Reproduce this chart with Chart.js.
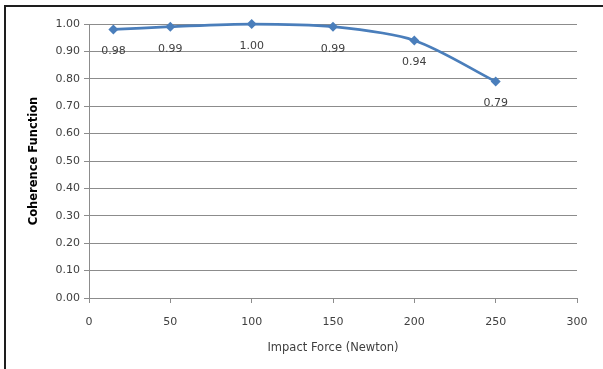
<!DOCTYPE html>
<html>
<head>
<meta charset="utf-8">
<script src="https://cdn.jsdelivr.net/npm/chart.js@4/dist/chart.umd.min.js"></script>
<style>
  html, body { margin: 0; padding: 0; background: #fff; }
  #wrap { position: relative; width: 603px; height: 369px; }
</style>
</head>
<body>
<div id="wrap"><canvas id="chart-coherence"></canvas></div>
<script>
// Coherence vs impact force
const forces    = [15, 50, 100, 150, 200, 250];
const coherence = [0.98, 0.99, 1.00, 0.99, 0.94, 0.79];
const xTicks    = [0, 50, 100, 150, 200, 250, 300];
const yTicks    = [0, 0.1, 0.2, 0.3, 0.4, 0.5, 0.6, 0.7, 0.8, 0.9, 1.0];

const LINE  = '#4a7ebb';
const GRID  = '#8c8c8c';
const TEXT  = '#404040';
const FONT  = 'DejaVu Sans';

// outer frame (left + top edges of the chart box)
const framePlugin = {
  id: 'frame',
  beforeDraw(chart) {
    const c = chart.ctx;
    c.save();
    c.fillStyle = '#fff';
    c.fillRect(0, 0, chart.width, chart.height);
    c.strokeStyle = '#1e1e1e';
    c.lineWidth = 2;
    c.beginPath();
    c.moveTo(5, chart.height);
    c.lineTo(5, 6);
    c.lineTo(chart.width, 6);
    c.stroke();
    c.restore();
  }
};

// value labels under each marker
const valueLabels = {
  id: 'valueLabels',
  afterDatasetsDraw(chart) {
    const c = chart.ctx;
    const meta = chart.getDatasetMeta(0);
    c.save();
    c.font = `11px "${FONT}"`;
    c.fillStyle = TEXT;
    c.textAlign = 'center';
    c.textBaseline = 'middle';
    meta.data.forEach((pt, i) => {
      c.fillText(coherence[i].toFixed(2), pt.x, pt.y + 22);
    });
    c.restore();
  }
};

new Chart(document.getElementById('chart-coherence'), {
  type: 'scatter',
  data: {
    datasets: [{
      label: 'Coherence',
      data: forces.map((f, i) => ({ x: f, y: coherence[i] })),
      showLine: true,
      borderColor: LINE,
      backgroundColor: LINE,
      borderWidth: 2.75,
      tension: 0.3,
      pointStyle: 'rectRot',
      pointRadius: 5,
      pointBorderWidth: 0,
      clip: false,
    }]
  },
  options: {
    responsive: true, maintainAspectRatio: false,
    animation: false,
    layout: { padding: { top: 24, right: 26, bottom: 0, left: 0 } },
    plugins: { legend: { display: false }, tooltip: { enabled: false } },
    scales: {
      x: {
        type: 'linear', min: 0, max: 300,
        afterBuildTicks: s => { s.ticks = xTicks.map(v => ({ value: v })); },
        afterFit: s => { s.height = 71; },
        grid: { drawOnChartArea: false, drawTicks: true, tickLength: 5, color: GRID },
        border: { color: GRID, width: 1 },
        ticks: { padding: 13, color: TEXT, font: { family: FONT, size: 11 } },
        title: {
          display: true, text: 'Impact Force (Newton)', color: TEXT,
          font: { family: FONT, size: 11.5 }, padding: { top: 0, bottom: 14 }
        }
      },
      y: {
        min: 0, max: 1,
        afterBuildTicks: s => { s.ticks = yTicks.map(v => ({ value: v })); },
        afterFit: s => { s.width = 89; },
        grid: { drawTicks: true, tickLength: 5, color: GRID },
        border: { color: GRID, width: 1 },
        ticks: { padding: 4, color: TEXT, font: { family: FONT, size: 11 }, callback: v => v.toFixed(2) },
        title: {
          display: true, text: 'Coherence Function', color: '#000',
          font: { family: FONT, size: 11.5, weight: 'bold' }, padding: { top: 27, bottom: 0 }
        }
      }
    }
  },
  plugins: [framePlugin, valueLabels]
});
</script>
</body>
</html>
